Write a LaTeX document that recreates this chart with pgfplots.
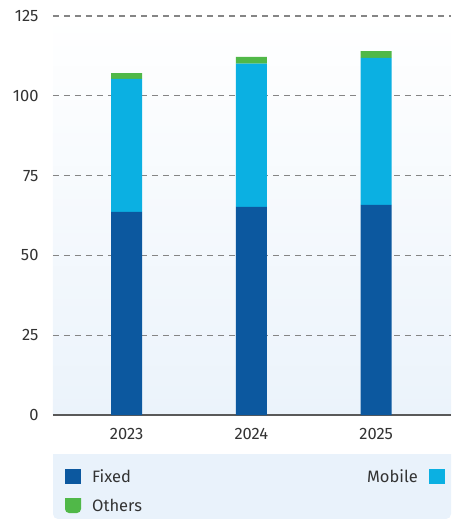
\documentclass[border=0pt]{standalone}
\usepackage{pgfplots}
\pgfplotsset{compat=1.18}
\usepackage{fontspec}
\setmainfont{Fira Sans}
\definecolor{fixedc}{HTML}{0C589F}
\definecolor{mobilec}{HTML}{0BB0E2}
\definecolor{othersc}{HTML}{50B848}
\definecolor{bgblue}{HTML}{EBF3FB}
\definecolor{legbg}{HTML}{E9F2FB}
\definecolor{txt}{HTML}{333333}
\definecolor{gridc}{HTML}{858585}
\begin{document}
\begin{tikzpicture}
\path[use as bounding box] (-53pt,-104pt) rectangle (398pt,415pt);
\fill[legbg, rounded corners=5pt] (0pt,-39pt) -- (0pt,-104pt) -- (398pt,-104pt) [sharp corners] -- (398pt,-39pt) -- cycle;
\begin{axis}[
  at={(0pt,0pt)}, anchor=south west,
  width=398pt, height=399pt, scale only axis,
  ybar stacked, bar width=31pt,
  xmin=-0.59, xmax=2.6, ymin=0, ymax=125,
  xtick={0,1,2}, xticklabels={2023,2024,2025},
  ytick={25,50,75,100,125},
  extra y ticks={0},
  extra y tick style={grid style={solid, draw=black!65, line width=1.2pt}},
  ymajorgrids,
  grid style={dashed, dash pattern=on 6pt off 5pt, draw=gridc, line width=1.2pt},
  axis line style={draw=none},
  tick style={draw=none},
  axis background/.style={top color=white, bottom color=bgblue},
  font=\fontsize{16.5}{19}\selectfont\color{txt},
  /pgf/number format/assume math mode=true,
  yticklabel style={anchor=east, xshift=-11pt},
  xticklabel style={yshift=-10pt},
  clip=false,
]
\addplot[fill=fixedc, draw=none] coordinates {(0,63.6) (1,65.2) (2,65.8)};
\addplot[fill=mobilec, draw=none] coordinates {(0,41.7) (1,44.9) (2,46.1)};
\addplot[fill=othersc, draw=none] coordinates {(0,1.8) (1,2.1) (2,2.1)};
\end{axis}
\begin{scope}[font=\fontsize{16.5}{19}\selectfont\color{txt}]
\fill[fixedc] (12pt,-54pt) rectangle (28pt,-69pt);
\node[anchor=west, inner sep=0pt] at (39pt,-61.5pt) {Fixed};
\fill[mobilec] (376pt,-54pt) rectangle (392pt,-69pt);
\node[anchor=east, inner sep=0pt] at (365pt,-61.5pt) {Mobile};
\fill[othersc, rounded corners=4pt] (12pt,-83pt) -- (12pt,-98pt) -- (28pt,-98pt) [sharp corners] -- (28pt,-83pt) -- cycle;
\node[anchor=west, inner sep=0pt] at (39pt,-90.5pt) {Others};
\end{scope}
\end{tikzpicture}
\end{document}
